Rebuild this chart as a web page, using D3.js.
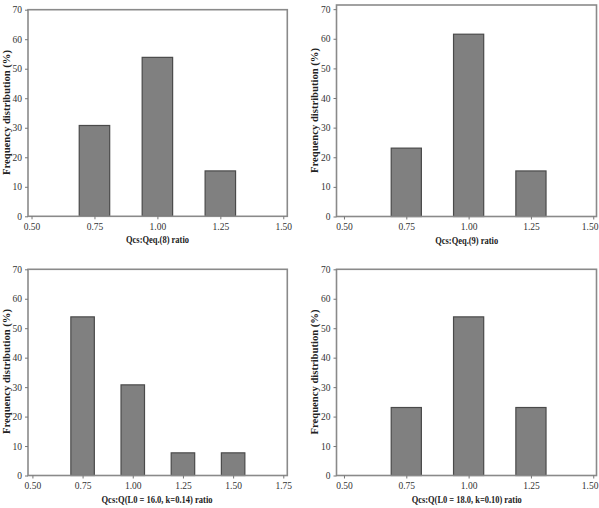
<!DOCTYPE html>
<html><head><meta charset="utf-8">
<script src="https://cdn.jsdelivr.net/npm/d3@7"></script>
<style>body{margin:0;background:#fff}</style>
</head><body>
<svg id="c" width="599" height="508"></svg>
<script>
// Data
const ratiosA = [0.75, 1.00, 1.25];
const freqA = [30.77, 53.85, 15.38];
const ratiosB = [0.75, 1.00, 1.25];
const freqB = [23.08, 61.54, 15.38];
const ratiosC = [0.75, 1.00, 1.25, 1.50];
const freqC = [53.85, 30.77, 7.69, 7.69];
const ratiosD = [0.75, 1.00, 1.25];
const freqD = [23.08, 53.85, 23.08];
const xTicksA = [0.50, 0.75, 1.00, 1.25, 1.50];
const xTicksC = [0.50, 0.75, 1.00, 1.25, 1.50, 1.75];
const yTicks = [0, 10, 20, 30, 40, 50, 60, 70];
const xLabels = ["Qcs:Qeq.(8) ratio", "Qcs:Qeq.(9) ratio", "Qcs:Q(L0 = 16.0, k=0.14) ratio", "Qcs:Q(L0 = 18.0, k=0.10) ratio"];
const yLabel = "Frequency distribution (%)";

const panels = [
  {x: ratiosA, y: freqA, ticks: xTicksA, label: xLabels[0], l:28, r:287.3, t:9.7, b:216.3, xd:[0.486,1.516], yd:[0,70], bw:0.121, ylx:8, yly:112.5, xlx:157.5, xlw:63},
  {x: ratiosB, y: freqB, ticks: xTicksA, label: xLabels[1], l:336.5, r:596.5, t:5, b:216.5, xd:[0.47,1.513], yd:[0,71.4], bw:0.121, ylx:316, yly:110.5, xlx:466.7, xlw:63},
  {x: ratiosC, y: freqC, ticks: xTicksC, label: xLabels[2], l:28, r:287.3, t:269.3, b:475.5, xd:[0.478,1.77], yd:[0,70], bw:0.117, ylx:8, yly:371.5, xlx:157, xlw:111},
  {x: ratiosD, y: freqD, ticks: xTicksA, label: xLabels[3], l:336.5, r:596.5, t:269.3, b:475.5, xd:[0.47,1.513], yd:[0,70], bw:0.121, ylx:316, yly:372, xlx:466.7, xlw:110}
];

const svg = d3.select("#c");
const tickFont = "'Liberation Serif', serif";

panels.forEach(p => {
  const x = d3.scaleLinear().domain(p.xd).range([p.l, p.r]);
  const y = d3.scaleLinear().domain(p.yd).range([p.b, p.t]);
  const g = svg.append("g");

  // bars
  g.selectAll("rect.bar").data(p.x.map((v,i)=>({v, f:p.y[i]}))).enter().append("rect")
    .attr("class","bar")
    .attr("x", d => x(d.v - p.bw/2))
    .attr("width", d => x(d.v + p.bw/2) - x(d.v - p.bw/2))
    .attr("y", d => y(d.f))
    .attr("height", d => y(0) - y(d.f))
    .attr("fill", "#808080")
    .attr("stroke", "#4a4a4a")
    .attr("stroke-width", 1.2);

  // frame
  g.append("rect").attr("x", p.l).attr("y", p.t)
    .attr("width", p.r - p.l).attr("height", p.b - p.t)
    .attr("fill", "none").attr("stroke", "#8a8a8a").attr("stroke-width", 1.6);

  // axes
  const xa = d3.axisBottom(x).tickValues(p.ticks).tickFormat(d3.format(".2f")).tickSize(3).tickPadding(4);
  const ya = d3.axisLeft(y).tickValues(yTicks).tickFormat(d3.format("d")).tickSize(3).tickPadding(3);
  const gx = g.append("g").attr("transform", `translate(0,${p.b})`).call(xa);
  const gy = g.append("g").attr("transform", `translate(${p.l},0)`).call(ya);
  [gx, gy].forEach(a => {
    a.select(".domain").remove();
    a.selectAll("line").attr("stroke", "#777");
    a.selectAll("text").attr("font-family", tickFont).attr("font-size", 9.5).attr("fill", "#333");
  });
  // keep the last x tick label inside the picture
  gx.selectAll("text").each(function(d) {
    const bb = this.getBBox();
    const right = x(d) + bb.width / 2;
    if (right > 598) d3.select(this).attr("dx", (598 - right) + "px");
  });

  // labels
  g.append("text").attr("x", p.xlx).attr("y", p.b + 27)
    .attr("text-anchor","middle").attr("font-family", tickFont).attr("font-weight","bold")
    .attr("font-size", 10.5).attr("fill","#222")
    .attr("textLength", p.xlw).attr("lengthAdjust", "spacingAndGlyphs").text(p.label);
  g.append("text").attr("transform", `translate(${p.ylx},${p.yly}) rotate(-90)`)
    .attr("text-anchor","middle").attr("dominant-baseline","middle")
    .attr("font-family", tickFont).attr("font-weight","bold")
    .attr("font-size", 10.5).attr("fill","#222")
    .attr("textLength", 125).attr("lengthAdjust", "spacingAndGlyphs").text(yLabel);
});
</script>
</body></html>
